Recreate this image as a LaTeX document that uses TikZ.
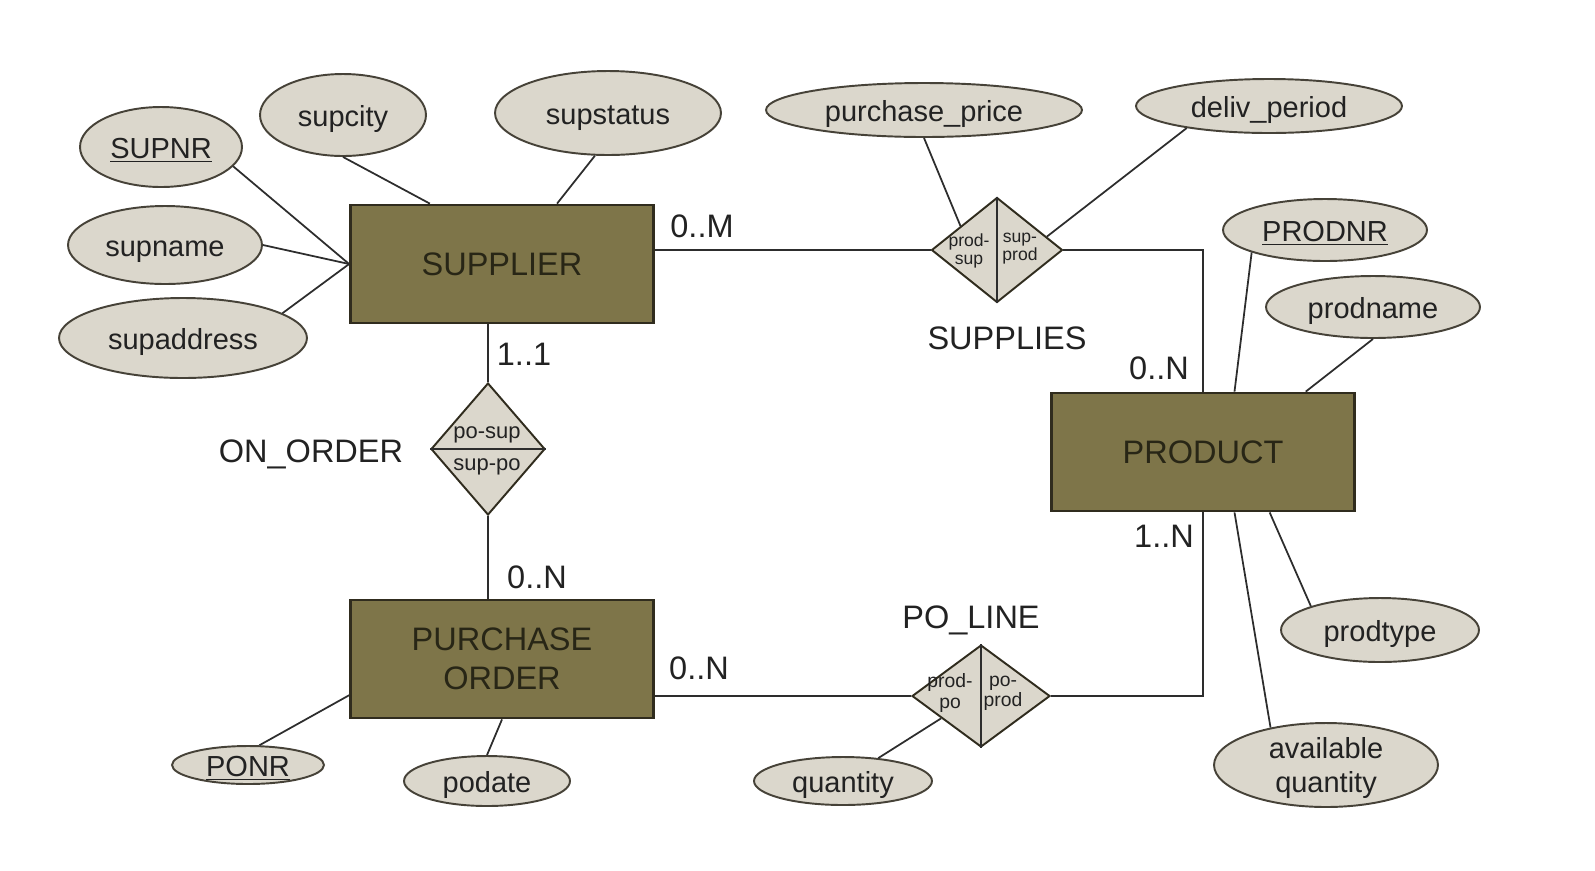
\documentclass[tikz,border=0pt]{standalone}
\usepackage{fontspec}
\setmainfont{Liberation Sans}
\usetikzlibrary{shapes.geometric,calc}
\definecolor{entfill}{RGB}{126,117,73}
\definecolor{entline}{RGB}{48,44,30}
\definecolor{enttext}{RGB}{40,38,22}
\definecolor{attfill}{RGB}{219,215,204}
\definecolor{attline}{RGB}{70,66,56}
\definecolor{txt}{RGB}{34,34,34}
\definecolor{linkc}{RGB}{45,45,45}
\begin{document}
\begin{tikzpicture}[x=0.02cm,y=-0.02cm,
    entity/.style={draw=entline,line width=1.6pt,fill=entfill,text=enttext,
      font=\fontsize{18.5}{22}\selectfont,align=center,inner sep=0pt,
      minimum width=6.06cm,minimum height=2.36cm},
    attrtwo/.style={ellipse,draw=attline,line width=1.1pt,fill=attfill,text=txt,
      font=\fontsize{16.5}{19}\selectfont,align=center,inner sep=0pt,text depth=0pt},
    attr/.style={attrtwo,text height=13.2pt},
    rel/.style={diamond,draw=entline,line width=1.1pt,fill=attfill,inner sep=0pt},
    role/.style={text=txt,align=center,inner sep=0pt},
    lbl/.style={text=txt,font=\fontsize{18.5}{22}\selectfont,inner sep=0pt,
      text height=13.3pt,text depth=0pt},
    link/.style={draw=linkc,line width=1pt}]
    \useasboundingbox (0,0) rectangle (1595,870);

    \node[entity] (supplier) at (502,264) {SUPPLIER};
    \node[entity] (product) at (1203,452) {PRODUCT};
    \node[entity] (porder) at (502,659) {PURCHASE\\ORDER};

    \node[rel,minimum width=2.62cm,minimum height=2.1cm] (supplies) at (997,250) {};
    \node[rel,minimum width=2.28cm,minimum height=2.64cm] (onorder) at (488,449) {};
    \node[rel,minimum width=2.76cm,minimum height=2.04cm] (poline) at (981,696) {};
    \draw[link] (supplies.north) -- (supplies.south);
    \draw[link,line width=1.4pt] (onorder.west) -- (onorder.east);
    \draw[link] (poline.north) -- (poline.south);
    \node[role,font=\fontsize{10}{10.2}\selectfont] (suppliesl) at (969,251) {prod-\\sup};
    \node[role,font=\fontsize{10}{10.2}\selectfont] (suppliesr) at (1020,249) {sup-\\prod};
    \node[role,font=\fontsize{12.5}{14}\selectfont] (onordert) at (487,435) {po-sup};
    \node[role,font=\fontsize{12.5}{14}\selectfont] (onorderb) at (487,467) {sup-po};
    \node[role,font=\fontsize{11}{11.4}\selectfont] (polinel) at (950,693) {prod-\\po};
    \node[role,font=\fontsize{11}{11.4}\selectfont] (poliner) at (1003,693) {po-\\prod};

    \node[attr,minimum width=3.24cm,minimum height=1.6cm] (supnr) at (161,147) {\underline{SUPNR}};
    \node[attr,minimum width=3.32cm,minimum height=1.64cm] (supcity) at (343,115) {supcity};
    \node[attr,minimum width=4.52cm,minimum height=1.68cm] (supstatus) at (608,113) {supstatus};
    \node[attr,minimum width=3.88cm,minimum height=1.56cm] (supname) at (165,245) {supname};
    \node[attr,minimum width=4.96cm,minimum height=1.6cm] (supaddress) at (183,338) {supaddress};
    \node[attr,minimum width=6.32cm,minimum height=1.08cm] (purprice) at (924,110) {purchase\_price};
    \node[attr,minimum width=5.32cm,minimum height=1.08cm] (delivperiod) at (1269,106) {deliv\_period};
    \node[attr,minimum width=4.08cm,minimum height=1.24cm] (prodnr) at (1325,230) {\underline{PRODNR}};
    \node[attr,minimum width=4.28cm,minimum height=1.24cm] (prodname) at (1373,307) {prodname};
    \node[attr,minimum width=3.96cm,minimum height=1.28cm] (prodtype) at (1380,630) {prodtype};
    \node[attrtwo,minimum width=4.48cm,minimum height=1.68cm] (availqty) at (1326,765) {available\\quantity};
    \node[attr,minimum width=3.04cm,minimum height=0.76cm] (ponr) at (248,765) {\underline{PONR}};
    \node[attr,minimum width=3.32cm,minimum height=1.0cm] (podate) at (487,781) {podate};
    \node[attr,minimum width=3.56cm,minimum height=0.96cm] (quantity) at (843,781) {quantity};

    \node[lbl] (cardsm) at (702,226) {0..M};
    \node[lbl] (cardss) at (524,354) {1..1};
    \node[lbl] (suppliest) at (1007,338) {SUPPLIES};
    \node[lbl] (cardpn) at (1159,368) {0..N};
    \node[lbl] (onordert2) at (311,451) {ON\_ORDER};
    \node[lbl] (cardpl) at (1164,536) {1..N};
    \node[lbl] (cardon) at (537,577) {0..N};
    \node[lbl] (polinet) at (971,617) {PO\_LINE};
    \node[lbl] (cardpo) at (699,668) {0..N};

    \draw[link] (supplies.west) -- (supplies.west -| supplier.east);
    \draw[link] (supplies.east) -- (supplies.east -| product.north) -- (product.north);
    \draw[link] (supplier.south -| onorder.north) -- (onorder.north);
    \draw[link] (onorder.south) -- (onorder.south |- porder.north);
    \draw[link] (poline.west) -- (poline.west -| porder.east);
    \draw[link] (poline.east) -- (poline.east -| product.south) -- (product.south);

    \draw[link] (supnr.-15) -- (supplier.west);
    \draw[link] (supname.east) -- (supplier.west);
    \draw[link] (supaddress.14) -- (supplier.west);
    \draw[link] (supcity.south) -- ($(supplier.north west)!0.264!(supplier.north east)$);
    \draw[link] (supstatus.253) -- ($(supplier.north west)!0.68!(supplier.north east)$);
    \draw[link] (purprice.south) -- ($(supplies.west)!0.45!(supplies.north)$);
    \draw[link] (delivperiod.195) -- ($(supplies.north)!0.75!(supplies.east)$);
    \draw[link] (prodnr.197) -- ($(product.north west)!0.603!(product.north east)$);
    \draw[link] (prodname.south) -- ($(product.north west)!0.836!(product.north east)$);
    \draw[link] (prodtype.161) -- ($(product.south west)!0.718!(product.south east)$);
    \draw[link] (availqty.146) -- ($(product.south west)!0.603!(product.south east)$);
    \draw[link] (ponr.60) -- ($(porder.north west)!0.8!(porder.south west)$);
    \draw[link] (podate.north) -- (porder.south);
    \draw[link] (quantity.33) -- ($(poline.west)!0.43!(poline.south)$);
\end{tikzpicture}
\end{document}
